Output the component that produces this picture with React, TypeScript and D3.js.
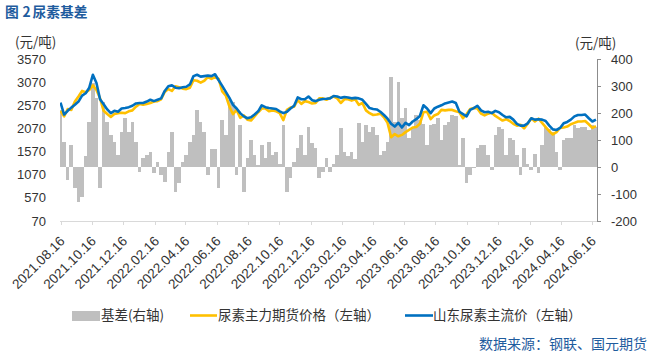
import React from "react";
import * as d3 from "d3";

// weekly observations starting from this date
const startDate = "2021-08-16";

const tickLabels = [
  "2021.08.16", "2021.10.16", "2021.12.16", "2022.02.16", "2022.04.16", "2022.06.16",
  "2022.08.16", "2022.10.16", "2022.12.16", "2023.02.16", "2023.04.16", "2023.06.16",
  "2023.08.16", "2023.10.16", "2023.12.16", "2024.02.16", "2024.04.16", "2024.06.16",
];

// 山东尿素主流价 (left axis)
const spotShandong = [
  2630, 2370, 2450, 2520, 2580, 2650, 2780, 2830, 2950, 3230, 3050, 2700, 2590, 2480, 2400,
  2450, 2430, 2500, 2510, 2530, 2560, 2610, 2620, 2620, 2650, 2690, 2660, 2690, 2720, 2880,
  2980, 3000, 2950, 2940, 2960, 2970, 3020, 3200, 3230, 3190, 3200, 3210, 3200, 3240, 3110,
  2990, 2860, 2730, 2580, 2500, 2400, 2330, 2290, 2310, 2370, 2440, 2570, 2530, 2510, 2500,
  2490, 2440, 2400, 2430, 2500, 2560, 2740, 2700, 2700, 2760, 2680, 2660, 2690, 2705, 2710,
  2720, 2770, 2760, 2730, 2750, 2740, 2720, 2730, 2720, 2690, 2600, 2510, 2490, 2480, 2430,
  2360, 2280, 2170, 2110, 2190, 2090, 2190, 2140, 2220, 2270, 2340, 2570, 2500, 2400, 2500,
  2540, 2570, 2610, 2630, 2650, 2620, 2430, 2380, 2330, 2470, 2510, 2560, 2460, 2420, 2430,
  2400, 2450, 2420, 2360, 2310, 2320, 2260, 2170, 2130, 2130, 2180, 2290, 2260, 2270, 2260,
  2230, 2130, 2050, 2036, 2080, 2180, 2210, 2260, 2330, 2360, 2360, 2370, 2290, 2220, 2260,
];

// 尿素主力期货价格 (left axis)
const futuresMain = [
  2450, 2330, 2490, 2470, 2650, 2760, 2880, 2850, 2900, 3000, 2900, 2720, 2450, 2380, 2320,
  2380, 2400, 2410, 2400, 2440, 2460, 2540, 2600, 2580, 2600, 2620, 2650, 2660, 2700, 2860,
  2920, 2880, 2980, 2960, 2930, 2920, 2950, 3110, 3100, 3060, 3100, 3180, 3140, 3180, 3140,
  2870, 2780, 2540, 2380, 2470, 2300, 2350, 2260, 2240, 2330, 2420, 2500, 2500, 2440, 2460,
  2440, 2400, 2250, 2470, 2520, 2540, 2680, 2600, 2660, 2640, 2610, 2620, 2720, 2720, 2690,
  2730, 2760, 2720, 2620, 2700, 2700, 2670, 2700, 2580, 2620, 2460, 2400, 2360, 2370, 2390,
  2310, 2190, 1880, 1950, 1900, 1930, 1990, 2040, 2090, 2100, 2170, 2420, 2430, 2270, 2350,
  2380, 2470, 2460, 2470, 2470, 2440, 2420, 2290, 2380, 2490, 2510, 2500, 2390, 2350, 2390,
  2410, 2340, 2290, 2240, 2270, 2230, 2170, 2130, 2150, 2070, 2170, 2290, 2220, 2280, 2190,
  2100, 2010, 1940, 1990, 2080, 2090, 2110, 2160, 2190, 2220, 2220, 2230, 2160, 2080, 2120,
];

// 基差 (right axis)
const basis = [
  210, 94, -48, 80, -78, -128, -110, 40, 168, 310, 254, -76, 240, 168, 118,
  94, 44, 130, 180, 130, 168, 94, -18, 32, 44, 56, -24, 20, -30, -54,
  56, 130, -92, -60, 20, 44, 94, 118, 210, 168, 130, -30, 68, 68, -78,
  174, 118, 248, 242, -30, 156, -92, 32, 100, 44, 7, 81, 32, 94, 44,
  57, 10, 156, -91, -40, 20, 69, 119, 44, 149, 90, 69, -42, -20, 32,
  -17, 10, 44, 143, 57, 40, 57, 30, 162, 94, 156, 131, 149, 120, 44,
  60, 94, 335, 168, 316, 180, 217, 106, 143, 193, 175, 160, 80, 156, 160,
  180, 100, 156, 168, 193, 190, 7, 106, -60, -30, -5, 69, 81, 81, 44,
  -11, 120, 149, 140, 44, 106, 100, 44, -30, 69, 10, -11, 50, -23, 81,
  149, 140, 131, 57, -11, 100, 106, 106, 156, 143, 149, 149, 137, 156, 150,
];

const leftTicks = [70, 570, 1070, 1570, 2070, 2570, 3070, 3570];
const rightTicks = [-200, -100, 0, 100, 200, 300, 400];

const FONT = "'Liberation Sans', 'Noto Sans CJK SC', sans-serif";
const CJK = "'Noto Sans CJK SC', sans-serif";

export default function App() {
  const W = 651;
  const H = 355;
  const pl = 60;
  const pr = 597;
  const pt = 59;
  const pb = 221;

  const t0 = d3.timeParse("%Y-%m-%d")(startDate) as Date;
  const dates = spotShandong.map((_, i) => d3.timeDay.offset(t0, 7 * i));
  const x = d3
    .scaleTime()
    .domain([new Date(2021, 7, 15), new Date(2024, 5, 26)])
    .range([pl, pr]);
  const yL = d3.scaleLinear().domain([70, 3570]).range([pb, pt]);
  const yR = d3.scaleLinear().domain([-200, 400]).range([pb, pt]);

  const parseTick = d3.timeParse("%Y.%m.%d");
  const tickDates = tickLabels.map((s) => parseTick(s) as Date);

  const lineL = d3
    .line<number>()
    .x((_, i) => x(dates[i]))
    .y((d) => yL(d));

  const bw = x(d3.timeDay.offset(t0, 7)) - x(t0);

  return (
    <svg
      width={W}
      height={H}
      style={{ position: "fixed", left: 0, top: 0, background: "#fff" }}
      fontFamily={FONT}
    >
      <defs>
        <clipPath id="plot">
          <rect x={pl} y={pt - 10} width={pr - pl} height={pb - pt + 20} />
        </clipPath>
      </defs>
      <rect x={0} y={0} width={W} height={H} fill="#fff" />

      {/* title */}
      <text y={17} fontSize={13.75} fontWeight="bold" fill="#1F5C9E" fontFamily={CJK}>
        <tspan x={5}>图</tspan>
        <tspan x={22.5}>2</tspan>
        <tspan x={32.5}>尿素基差</tspan>
      </text>
      <text x={15} y={47} fontSize={13.5} fill="#333" fontFamily={CJK}>
        (元/吨)
      </text>
      <text x={575} y={48} fontSize={13.5} fill="#333" fontFamily={CJK}>
        (元/吨)
      </text>

      {/* bottom axis */}
      <line x1={pl} x2={pr} y1={pb + 0.5} y2={pb + 0.5} stroke="#D9D9D9" />
      {tickDates.map((d, i) => (
        <line
          key={"bt" + i}
          x1={Math.round(x(d)) + 0.5}
          x2={Math.round(x(d)) + 0.5}
          y1={pb}
          y2={pb + 4}
          stroke="#D9D9D9"
        />
      ))}

      {/* bars */}
      <g clipPath="url(#plot)">
        <g shapeRendering="crispEdges">
          {basis.map((v, i) => {
            const xa = Math.round(x(dates[i]) - bw / 2);
            const xb = Math.round(x(d3.timeDay.offset(dates[i], 7)) - bw / 2);
            const y0 = yR(0);
            const y1 = yR(v);
            return (
              <rect
                key={"b" + i}
                x={xa}
                width={xb - xa}
                y={Math.min(y0, y1)}
                height={Math.abs(y1 - y0)}
                fill="#BFBFBF"
              />
            );
          })}
        </g>
        <path d={lineL(futuresMain) || ""} fill="none" stroke="#FFC000" strokeWidth={2.6} strokeLinejoin="round" />
        <path d={lineL(spotShandong) || ""} fill="none" stroke="#0070C0" strokeWidth={2.6} strokeLinejoin="round" />
      </g>

      {/* left axis labels */}
      {leftTicks.map((v) => (
        <text key={"l" + v} x={46} y={yL(v)} dy="0.35em" textAnchor="end" fontSize={13} fill="#333">
          {v}
        </text>
      ))}

      {/* right axis */}
      <line x1={pr + 0.5} x2={pr + 0.5} y1={pt} y2={pb + 0.5} stroke="#8C8C8C" />
      {rightTicks.map((v) => (
        <g key={"r" + v}>
          <line x1={pr} x2={pr + 4} y1={Math.round(yR(v)) + 0.5} y2={Math.round(yR(v)) + 0.5} stroke="#8C8C8C" />
          <text x={611} y={yR(v)} dy="0.35em" fontSize={13} fill="#333">
            {v}
          </text>
        </g>
      ))}

      {/* x tick labels */}
      {tickDates.map((d, i) => (
        <text
          key={"xl" + i}
          transform={`translate(${x(d) + 5},${242}) rotate(-45)`}
          textAnchor="end"
          fontSize={13.5}
          fill="#333"
        >
          {tickLabels[i]}
        </text>
      ))}

      {/* legend */}
      <g fontFamily={CJK} fontSize={13.5} fill="#333">
        <rect x={72} y={311} width={28} height={10} fill="#BFBFBF" />
        <text x={101} y={320}>基差(右轴)</text>
        <line x1={190} x2={217} y1={315.5} y2={315.5} stroke="#FFC000" strokeWidth={2.6} />
        <text x={218} y={320}>尿素主力期货价格（左轴）</text>
        <line x1={405} x2={433} y1={315.5} y2={315.5} stroke="#0070C0" strokeWidth={2.6} />
        <text x={433} y={320}>山东尿素主流价（左轴）</text>
      </g>

      <text x={647} y={349} textAnchor="end" fontSize={14} fill="#1F5C9E" fontFamily={CJK}>
        数据来源：钢联、国元期货
      </text>
    </svg>
  );
}
